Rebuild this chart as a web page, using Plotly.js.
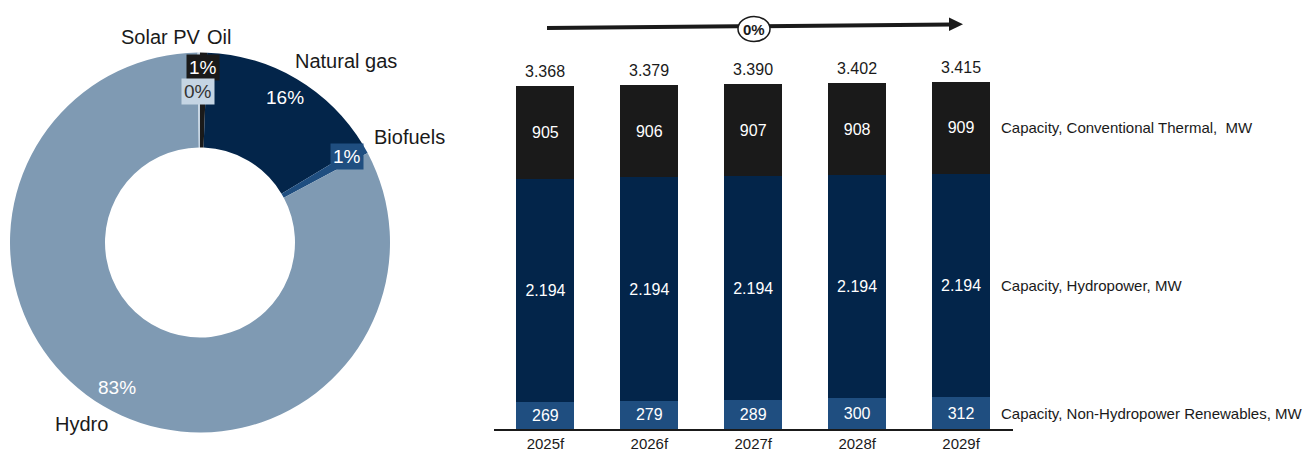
<!DOCTYPE html>
<html>
<head>
<meta charset="utf-8">
<script src="https://cdn.plot.ly/plotly-3.0.1.min.js"></script>
<style>html,body{margin:0;padding:0;background:#fff;}#chart{width:1313px;height:457px;}</style>
</head>
<body>
<div id="chart"></div>
<script>
// ---- Donut data ----
var mixLabels = ["Oil", "Natural gas", "Biofuels", "Hydro", "Solar PV"];
var mixValues = [0.6, 15.8, 0.8, 82.6, 0.2];
var mixColors = ["#1a1a1a", "#03254a", "#1f4e80", "#7f9ab3", "#c5d5e4"];

// ---- Bar data ----
var years = ["2025f", "2026f", "2027f", "2028f", "2029f"];
var nonHydro = [269, 279, 289, 300, 312];
var hydro = [2194, 2194, 2194, 2194, 2194];
var thermal = [905, 906, 907, 908, 909];
var seriesNames = ["Capacity, Non-Hydropower Renewables, MW", "Capacity, Hydropower, MW", "Capacity, Conventional Thermal,\u00a0 MW"];
var growthLabel = "0%";

var W = 1313, H = 457;
function px(x){ return x / W; }
function py(y){ return 1 - y / H; }
function fmt(n){ return String(n).replace(/\B(?=(\d{3})+(?!\d))/g, "."); }

var REG = "'Liberation Sans', Arial, sans-serif";

var totals = years.map(function(_, i){ return nonHydro[i] + hydro[i] + thermal[i]; });
var mixSum = mixValues.reduce(function(a,b){return a+b;}, 0);
var pct = mixValues.map(function(v){ return Math.round(v / mixSum * 100) + "%"; });

var barFont = {family: REG, size: 16, color: "#ffffff"};
function barTrace(vals, color, name){
  return {
    type: "bar", x: years, y: vals, name: name,
    marker: {color: color, line: {width: 0}},
    text: vals.map(fmt), textposition: "inside", insidetextanchor: "middle",
    constraintext: "none", textangle: 0, textfont: barFont,
    hoverinfo: "skip", showlegend: false, xaxis: "x", yaxis: "y"
  };
}

var data = [
  {
    type: "pie", labels: mixLabels, values: mixValues, sort: false,
    direction: "clockwise", rotation: 0, hole: 0.5,
    marker: {colors: mixColors, line: {width: 0}},
    textinfo: "none", hoverinfo: "skip", showlegend: false,
    domain: {x: [px(10), px(390)], y: [py(432.5), py(52.5)]}
  },
  barTrace(nonHydro, "#1f4e80", seriesNames[0]),
  barTrace(hydro, "#03254a", seriesNames[1]),
  barTrace(thermal, "#1a1a1a", seriesNames[2])
];

var last = years.length - 1;
var segMid = [
  nonHydro[last] / 2,
  nonHydro[last] + hydro[last] / 2,
  nonHydro[last] + hydro[last] + thermal[last] / 2
];

var annotations = [];
function pAnn(text, x, y, opts){
  var a = {text: text, x: px(x), y: py(y), xref: "paper", yref: "paper",
    xanchor: "center", yanchor: "middle", showarrow: false,
    font: {family: REG, size: 20, color: "#1a1a1a"}};
  for (var k in opts) a[k] = opts[k];
  annotations.push(a);
}
// Donut category labels
pAnn(mixLabels[4], 161, 37);
pAnn(mixLabels[0], 219, 37);
pAnn(mixLabels[1], 346, 61);
pAnn(mixLabels[2], 409, 137);
pAnn(mixLabels[3], 81, 424);
// Donut percentages
pAnn(pct[0], 203, 67, {bgcolor: mixColors[0], borderpad: 2, font: {family: REG, size: 19, color: "#ffffff"}});
pAnn(pct[4], 198, 91, {bgcolor: mixColors[4], borderpad: 2, font: {family: REG, size: 19, color: "#333333"}});
pAnn(pct[1], 285, 98, {font: {family: REG, size: 19, color: "#ffffff"}});
pAnn(pct[2], 347, 157, {bgcolor: mixColors[2], borderpad: 2, font: {family: REG, size: 19, color: "#ffffff"}});
pAnn(pct[3], 117, 387, {font: {family: REG, size: 19, color: "#ffffff"}});
// Growth label
pAnn(growthLabel, 754, 29, {font: {family: REG, size: 15, color: "#1a1a1a", weight: "bold"}});
// Totals above bars
for (var i = 0; i < years.length; i++) {
  annotations.push({
    text: fmt(totals[i]), xref: "x", yref: "y", x: years[i], y: totals[i],
    xanchor: "center", yanchor: "bottom", yshift: 4, showarrow: false,
    font: {family: REG, size: 16, color: "#1a1a1a"}
  });
}
// Series labels at right
for (var s = 0; s < 3; s++) {
  annotations.push({
    text: seriesNames[s], xref: "paper", yref: "y", x: px(999), y: segMid[s],
    xanchor: "left", yanchor: "middle", showarrow: false,
    font: {family: REG, size: 15, color: "#1a1a1a"}
  });
}

var shapes = [
  {type: "line", xref: "paper", yref: "paper", x0: px(547), y0: py(28), x1: px(952), y1: py(24.5),
   line: {color: "#1a1a1a", width: 4}},
  {type: "path", xref: "paper", yref: "paper",
   path: "M " + px(949) + " " + py(17.5) + " L " + px(963) + " " + py(24.2) + " L " + px(949) + " " + py(31) + " Z",
   fillcolor: "#1a1a1a", line: {width: 0}},
  {type: "circle", xref: "paper", yref: "paper", x0: px(738), x1: px(770), y0: py(41.5), y1: py(16.5),
   fillcolor: "#ffffff", line: {color: "#1a1a1a", width: 1.5}}
];

var layout = {
  width: W, height: H,
  margin: {l: 0, r: 0, t: 0, b: 0, pad: 0},
  paper_bgcolor: "#ffffff", plot_bgcolor: "rgba(0,0,0,0)",
  barmode: "stack", bargap: 0.442,
  showlegend: false,
  xaxis: {
    domain: [px(493.5), px(1013)], type: "category", range: [-0.5, 4.5],
    showline: true, linecolor: "#1a1a1a", linewidth: 1.5,
    ticks: "", showgrid: false, zeroline: false, fixedrange: true,
    tickfont: {family: REG, size: 15, color: "#1a1a1a"}
  },
  yaxis: {
    domain: [1 - 429 / H, 1], range: [0, 4218], visible: false,
    showgrid: false, zeroline: false, fixedrange: true
  },
  annotations: annotations,
  shapes: shapes
};

Plotly.newPlot("chart", data, layout, {displayModeBar: false, staticPlot: true});
</script>
</body>
</html>
